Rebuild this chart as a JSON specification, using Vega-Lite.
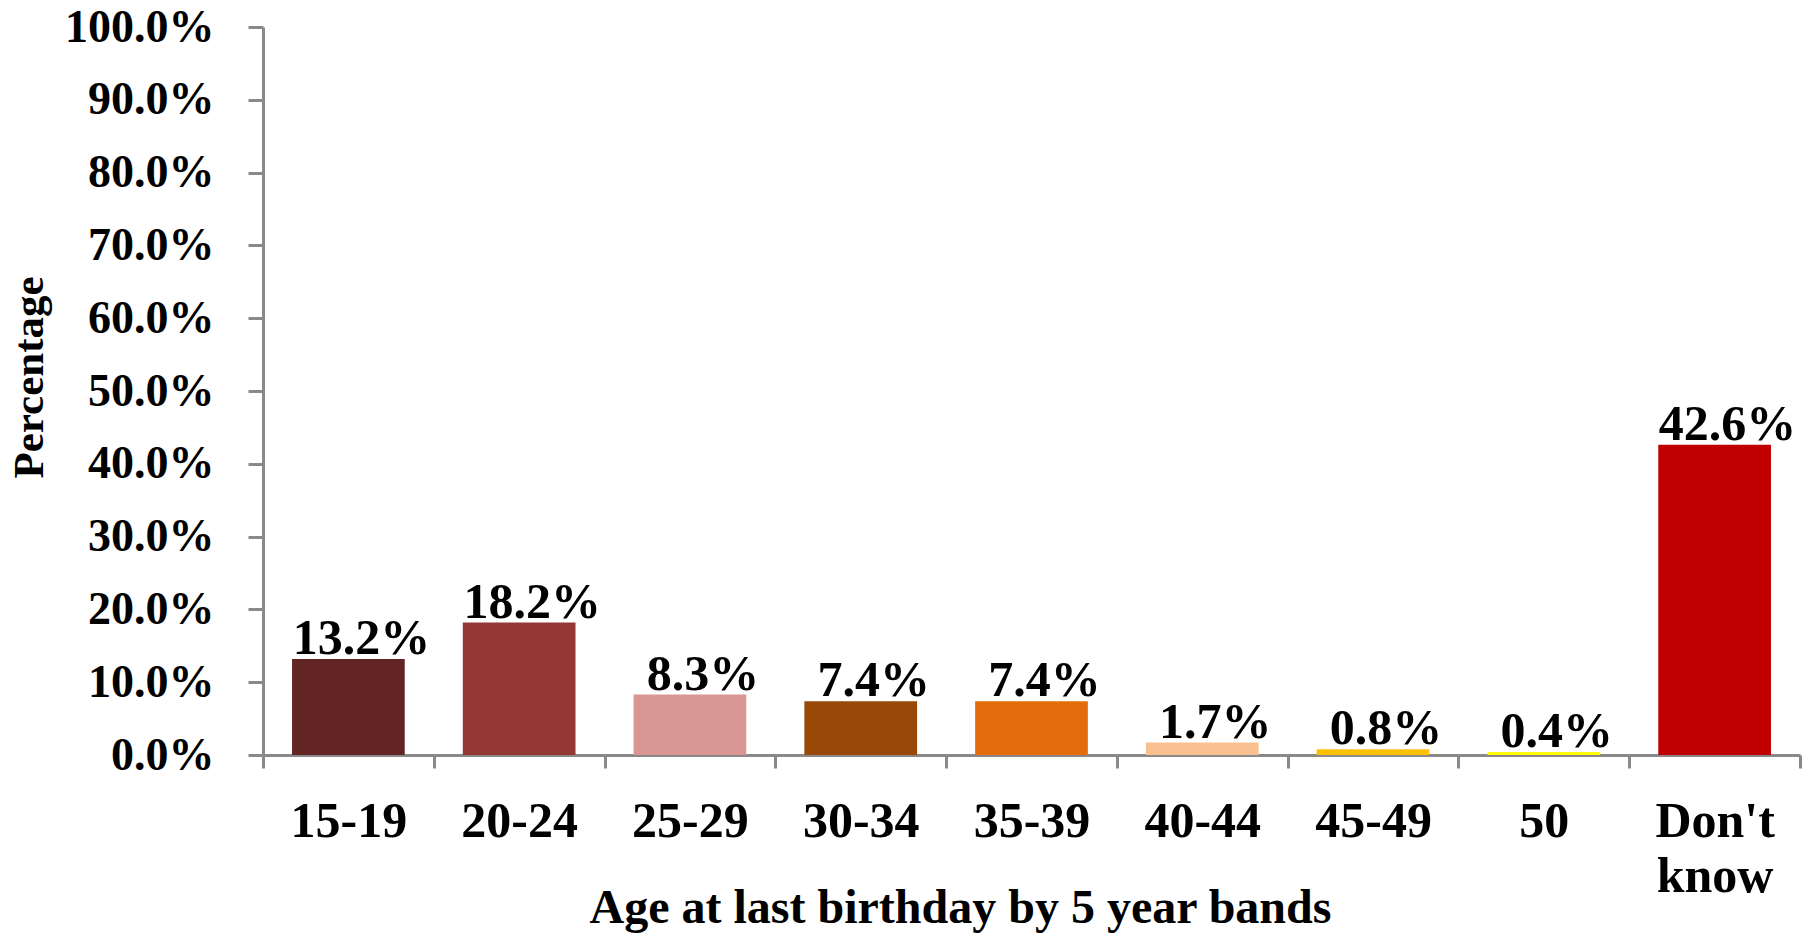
{
  "$schema": "https://vega.github.io/schema/vega-lite/v6.json",
  "width": 1537,
  "height": 728,
  "autosize": {"type": "none"},
  "padding": {"left": 263, "top": 27, "right": 18, "bottom": 178},
  "background": "white",
  "config": {"view": {"stroke": null}},
  "data": {
    "values": [
      {"age": "15-19", "pct": 0.132, "color": "#632523"},
      {"age": "20-24", "pct": 0.182, "color": "#953735"},
      {"age": "25-29", "pct": 0.083, "color": "#D99694"},
      {"age": "30-34", "pct": 0.074, "color": "#984807"},
      {"age": "35-39", "pct": 0.074, "color": "#E46C0A"},
      {"age": "40-44", "pct": 0.017, "color": "#FAC090"},
      {"age": "45-49", "pct": 0.008, "color": "#FFC000"},
      {"age": "50", "pct": 0.004, "color": "#FFFF00"},
      {"age": "Don't know", "pct": 0.426, "color": "#C00000"}
    ]
  },
  "encoding": {
    "x": {
      "field": "age",
      "type": "nominal",
      "sort": null,
      "scale": {"paddingInner": 0, "paddingOuter": 0},
      "axis": {
        "title": "Age at last birthday  by 5 year bands",
        "titleFont": "Liberation Serif",
        "titleFontWeight": "bold",
        "titleFontSize": 48,
        "titleColor": "black",
        "titleAnchor": "start",
        "titleAlign": "center",
        "titleX": 697,
        "titleY": 167,
        "titleBaseline": "alphabetic",
        "labelAngle": 0,
        "labelFont": "Liberation Serif",
        "labelFontWeight": "bold",
        "labelFontSize": 50,
        "labelColor": "black",
        "labelPadding": 28,
        "labelBaseline": "top",
        "labelLineHeight": 55,
        "labelExpr": "datum.value == \"Don't know\" ? [\"Don't\", \"know\"] : datum.value",
        "tickBand": "extent",
        "tickSize": 13,
        "tickWidth": 3,
        "tickColor": "#898989",
        "domainColor": "#898989",
        "domainWidth": 3
      }
    },
    "y": {
      "field": "pct",
      "type": "quantitative",
      "scale": {"domain": [0, 1], "nice": false},
      "axis": {
        "title": "Percentage",
        "titleFont": "Liberation Serif",
        "titleFontWeight": "bold",
        "titleFontSize": 43,
        "titleColor": "black",
        "titleAngle": -90,
        "titleX": -221,
        "titleY": 350,
        "titleAlign": "center",
        "titleBaseline": "alphabetic",
        "values": [0, 0.1, 0.2, 0.3, 0.4, 0.5, 0.6, 0.7, 0.8, 0.9, 1.0],
        "format": ".1%",
        "grid": false,
        "labelFont": "Liberation Serif",
        "labelFontWeight": "bold",
        "labelFontSize": 46,
        "labelColor": "black",
        "labelPadding": 34,
        "tickSize": 15,
        "tickWidth": 3,
        "tickColor": "#898989",
        "domainColor": "#898989",
        "domainWidth": 3
      }
    }
  },
  "layer": [
    {
      "mark": {"type": "bar", "width": {"band": 0.66}},
      "encoding": {
        "color": {"field": "color", "type": "nominal", "scale": null}
      }
    },
    {
      "mark": {
        "type": "text",
        "font": "Liberation Serif",
        "fontWeight": "bold",
        "fontSize": 50,
        "baseline": "alphabetic",
        "align": "center",
        "dy": -5,
        "dx": 13,
        "color": "black"
      },
      "encoding": {
        "text": {"field": "pct", "type": "quantitative", "format": ".1%"}
      }
    }
  ]
}
